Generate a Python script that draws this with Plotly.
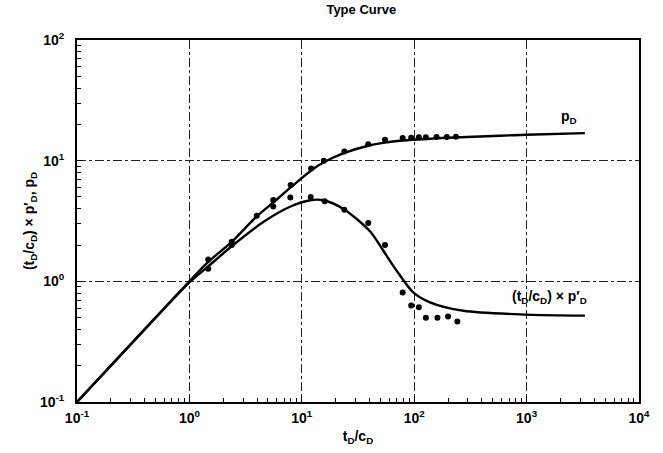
import plotly.graph_objects as go

# Curves
pd_curve_x = [0.1, 0.5, 1.0, 1.47, 2.38, 3.97, 5.57, 7.96, 12.1, 15.7, 23.9, 39, 55, 95, 200, 580, 1000, 3300]
pd_curve_y = [0.1, 0.5, 1.0, 1.45, 2.12, 3.45, 4.5, 6.0, 8.3, 9.7, 11.6, 13.3, 14.1, 14.9, 15.5, 16.1, 16.4, 16.9]

der_curve_x = [0.1, 0.5, 1.0, 1.47, 2.45, 4.54, 7.85, 11.9, 15.5, 23.3, 40.4, 53, 61, 70, 98, 138, 274, 1000, 3300]
der_curve_y = [0.1, 0.5, 0.98, 1.33, 2.0, 3.1, 4.15, 4.7, 4.7, 4.0, 2.6, 1.8, 1.47, 1.22, 0.81, 0.67, 0.57, 0.53, 0.52]

# Measured points
pd_pts_x = [1.47, 2.38, 3.97, 5.57, 7.96, 12.1, 15.7, 23.9, 39, 55, 79, 94, 110, 127, 158, 195, 235]
pd_pts_y = [1.52, 2.13, 3.5, 4.73, 6.28, 8.6, 10.0, 11.9, 13.7, 14.9, 15.4, 15.5, 15.6, 15.6, 15.7, 15.7, 15.8]

der_pts_x = [1.47, 2.38, 5.57, 7.9, 12.0, 16.0, 23.9, 39, 55, 79, 94, 110, 127, 161, 200, 242]
der_pts_y = [1.27, 2.0, 4.17, 4.95, 5.0, 4.6, 3.92, 3.05, 2.0, 0.81, 0.63, 0.61, 0.50, 0.50, 0.51, 0.465]

x_tickvals = [0.1, 1, 10, 100, 1000, 10000]
x_ticktext = ["10<sup>-1</sup>", "10<sup>0</sup>", "10<sup>1</sup>", "10<sup>2</sup>", "10<sup>3</sup>", "10<sup>4</sup>"]
y_tickvals = [0.1, 1, 10, 100]
y_ticktext = ["10<sup>-1</sup>", "10<sup>0</sup>", "10<sup>1</sup>", "10<sup>2</sup>"]

FONT = "Liberation Sans, Arial, sans-serif"

fig = go.Figure()
fig.add_trace(go.Scatter(x=pd_curve_x, y=pd_curve_y, mode="lines",
                         line=dict(color="black", width=2.4, shape="spline", smoothing=0.8),
                         showlegend=False, hoverinfo="skip"))
fig.add_trace(go.Scatter(x=der_curve_x, y=der_curve_y, mode="lines",
                         line=dict(color="black", width=2.4, shape="spline", smoothing=0.8),
                         showlegend=False, hoverinfo="skip"))
fig.add_trace(go.Scatter(x=pd_pts_x, y=pd_pts_y, mode="markers",
                         marker=dict(color="black", size=6), showlegend=False))
fig.add_trace(go.Scatter(x=der_pts_x, y=der_pts_y, mode="markers",
                         marker=dict(color="black", size=6), showlegend=False))

fig.add_annotation(x=3.38, y=1.36, xref="x", yref="y", text="p<sub>D</sub>",
                   showarrow=False, font=dict(family=FONT, size=14, color="black", weight="bold"))
fig.add_annotation(x=3.2, y=-0.13, xref="x", yref="y",
                   text="(t<sub>D</sub>/c<sub>D</sub>) × p′<sub>D</sub>",
                   showarrow=False, font=dict(family=FONT, size=14, color="black", weight="bold"))

axis_common = dict(
    showline=True, linecolor="black", linewidth=2, mirror=True,
    showgrid=True, gridcolor="#222", gridwidth=1, griddash="dashdot",
    ticks="inside", ticklen=6, tickcolor="black", tickwidth=1,
    tickfont=dict(family=FONT, size=14, color="black", weight="bold"),
    zeroline=False,
    minor=dict(ticks="inside", ticklen=4, tickcolor="black", tickwidth=1, dtick="D1", showgrid=False),
)

fig.update_xaxes(type="log", range=[-1, 4], tickvals=x_tickvals, ticktext=x_ticktext,
                 ticklabelstandoff=2,
                 title=dict(text="t<sub>D</sub>/c<sub>D</sub>", font=dict(family=FONT, size=14, color="black", weight="bold"), standoff=6),
                 **axis_common)
fig.update_yaxes(type="log", range=[-1, 2], tickvals=y_tickvals, ticktext=y_ticktext,
                 ticklabelstandoff=8,
                 title=dict(text="(t<sub>D</sub>/c<sub>D</sub>) × p′<sub>D</sub>, p<sub>D</sub>", font=dict(family=FONT, size=14, color="black", weight="bold"), standoff=2),
                 **axis_common)

fig.update_layout(
    width=663, height=453,
    margin=dict(l=77, r=24, t=40, b=51, autoexpand=False),
    paper_bgcolor="white", plot_bgcolor="white",
    title=dict(text="Type Curve", x=0.545, xanchor="center", y=0.99, yanchor="top",
               font=dict(family=FONT, size=13, color="black", weight="bold")),
)

fig.write_html("out.html", config={"displayModeBar": False},
               post_script="document.body.style.margin='0';document.body.style.overflow='hidden';")
